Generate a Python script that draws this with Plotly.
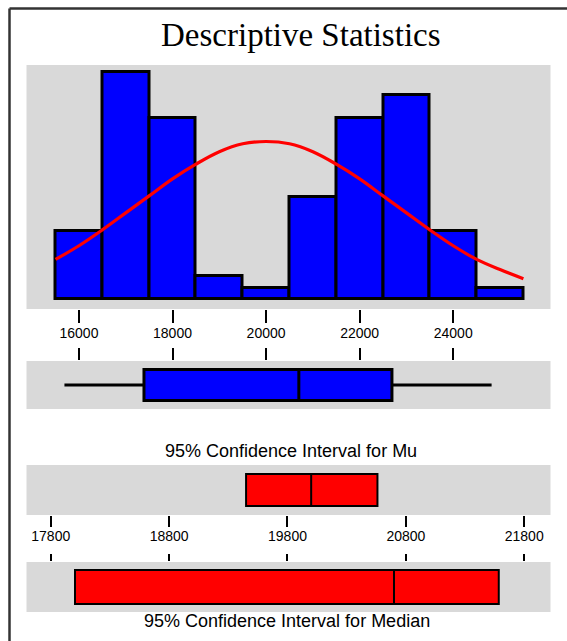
import plotly.graph_objects as go

# ---------------- data ----------------
bin_centers = [16000, 17000, 18000, 19000, 20000, 21000, 22000, 23000, 24000, 25000]
bin_counts = [6, 20, 16, 2, 1, 9, 16, 18, 6, 1]
bin_width = 1000

curve_x = [15500, 16000, 16500, 17000, 17500, 18000, 18500, 19000, 19500, 20000, 20500,
           21000, 21500, 22000, 22500, 23000, 23500, 24000, 24500, 25000, 25500]
curve_y = [3.5, 4.7, 6.1, 7.6, 9.1, 10.6, 11.9, 13.0, 13.7, 13.9, 13.7,
           13.0, 11.9, 10.6, 9.1, 7.6, 6.1, 4.7, 3.5, 2.6, 1.8]

# box plot summary: [min, Q1, median, Q3, max]
box_stats = [15690, 17390, 20700, 22690, 24820]

# 95% CI for Mu: [lower, mean, upper]
ci_mu = [19450, 20000, 20560]
# 95% CI for Median: [lower, median, upper]
ci_median = [18005, 20700, 21585]

hist_ticks = [16000, 18000, 20000, 22000, 24000]
ci_ticks = [17800, 18800, 19800, 20800, 21800]

# ---------------- figure ----------------
W, H = 567, 641
def fy(p):
    return 1 - p / H

fig = go.Figure()

fig.add_trace(go.Bar(
    x=bin_centers, y=bin_counts, width=bin_width,
    marker=dict(color="#0000ff", line=dict(color="black", width=3)),
    xaxis="x", yaxis="y", showlegend=False))

fig.add_trace(go.Scatter(
    x=curve_x, y=curve_y, mode="lines",
    line=dict(color="#ff0000", width=3.2, shape="spline"),
    xaxis="x", yaxis="y", showlegend=False))

fig.add_trace(go.Box(
    y=[0], orientation="h",
    lowerfence=[box_stats[0]], q1=[box_stats[1]], median=[box_stats[2]],
    q3=[box_stats[3]], upperfence=[box_stats[4]],
    fillcolor="#0000ff", line=dict(color="black", width=3),
    whiskerwidth=0, width=0.65, boxpoints=False,
    xaxis="x2", yaxis="y2", showlegend=False, hoverinfo="skip"))

fig.add_trace(go.Box(
    y=[0], orientation="h",
    lowerfence=[ci_mu[0]], q1=[ci_mu[0]], median=[ci_mu[1]],
    q3=[ci_mu[2]], upperfence=[ci_mu[2]],
    fillcolor="#ff0000", line=dict(color="black", width=2),
    whiskerwidth=0, width=0.64, boxpoints=False,
    xaxis="x3", yaxis="y3", showlegend=False, hoverinfo="skip"))

fig.add_trace(go.Box(
    y=[0], orientation="h",
    lowerfence=[ci_median[0]], q1=[ci_median[0]], median=[ci_median[1]],
    q3=[ci_median[2]], upperfence=[ci_median[2]],
    fillcolor="#ff0000", line=dict(color="black", width=2),
    whiskerwidth=0, width=0.68, boxpoints=False,
    xaxis="x4", yaxis="y4", showlegend=False, hoverinfo="skip"))

xdom = [26.5 / W, 550.5 / W]
tickfont = dict(family="Liberation Sans, Arial, sans-serif", size=14, color="black")
common_x = dict(domain=xdom, showgrid=False, zeroline=False, showline=False,
                tickcolor="black", tickwidth=1.5, fixedrange=True)
hidden_y = dict(showgrid=False, zeroline=False, showline=False, showticklabels=False,
                ticks="", fixedrange=True)

fig.update_layout(
    width=W, height=H,
    margin=dict(l=0, r=0, t=0, b=0),
    paper_bgcolor="white", plot_bgcolor="#d9d9d9",
    bargap=0,
    xaxis=dict(common_x, anchor="y", range=[14879, 26079], tickvals=hist_ticks,
               ticktext=[str(v) for v in hist_ticks], ticks="outside", ticklen=13,
               tickfont=tickfont, ticklabelstandoff=-2),
    xaxis2=dict(common_x, anchor="y2", matches="x", range=[14879, 26079],
                tickvals=hist_ticks, side="top", ticks="outside", ticklen=12,
                showticklabels=False),
    xaxis3=dict(common_x, anchor="y3", range=[17595, 22022], tickvals=ci_ticks,
                ticktext=[str(v) for v in ci_ticks], ticks="outside", ticklen=11,
                tickfont=tickfont, ticklabelstandoff=-3),
    xaxis4=dict(common_x, anchor="y4", matches="x3", range=[17595, 22022],
                tickvals=ci_ticks, side="top", ticks="outside", ticklen=7,
                showticklabels=False),
    yaxis=dict(hidden_y, anchor="x", domain=[fy(309), fy(65)], range=[-0.88, 20.65]),
    yaxis2=dict(hidden_y, anchor="x2", domain=[fy(409), fy(361)], range=[-0.5, 0.5]),
    yaxis3=dict(hidden_y, anchor="x3", domain=[fy(515), fy(465)], range=[-0.5, 0.5]),
    yaxis4=dict(hidden_y, anchor="x4", domain=[fy(612), fy(562)], range=[-0.5, 0.5]),
    shapes=[
        dict(type="line", xref="paper", yref="paper", x0=9.5 / W, x1=9.5 / W,
             y0=0, y1=fy(8.5), line=dict(color="#333333", width=2.5)),
        dict(type="line", xref="paper", yref="paper", x0=9.5 / W, x1=1,
             y0=fy(8.5), y1=fy(8.5), line=dict(color="#333333", width=2.5)),
    ],
    annotations=[
        dict(text="Descriptive Statistics", xref="paper", yref="paper",
             x=301 / W, y=fy(35), xanchor="center", yanchor="middle", showarrow=False,
             font=dict(family="Liberation Serif, Times New Roman, serif", size=33, color="black")),
        dict(text="95% Confidence Interval for Mu", xref="paper", yref="paper",
             x=291 / W, y=fy(451), xanchor="center", yanchor="middle", showarrow=False,
             font=dict(family="Liberation Sans, Arial, sans-serif", size=18, color="black")),
        dict(text="95% Confidence Interval for Median", xref="paper", yref="paper",
             x=287 / W, y=fy(621), xanchor="center", yanchor="middle", showarrow=False,
             font=dict(family="Liberation Sans, Arial, sans-serif", size=18, color="black")),
    ],
)

fig.write_html("out.html")
